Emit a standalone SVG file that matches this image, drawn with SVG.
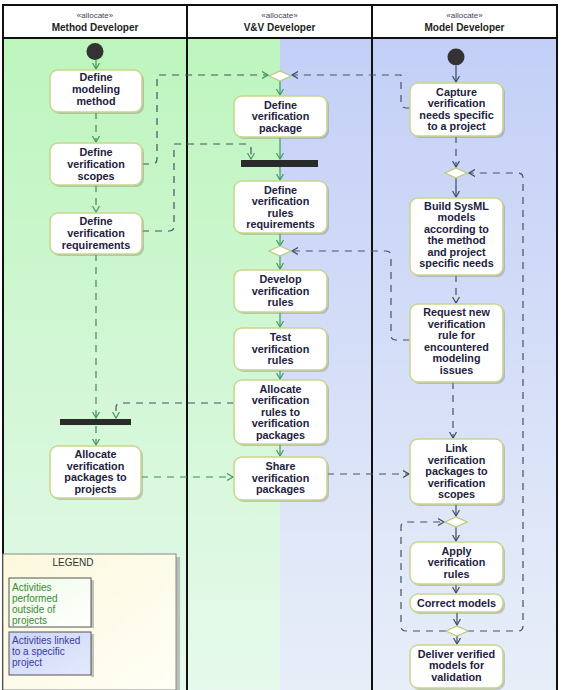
<svg xmlns="http://www.w3.org/2000/svg" width="562" height="690" viewBox="0 0 562 690">
<defs>
<linearGradient id="gG" x1="0" y1="0" x2="0" y2="1"><stop offset="0" stop-color="#bdf5bd"/><stop offset="1" stop-color="#e6f9ec"/></linearGradient>
<linearGradient id="gB" x1="0" y1="0" x2="0" y2="1"><stop offset="0" stop-color="#c3cff7"/><stop offset="1" stop-color="#e8eef8"/></linearGradient>
<linearGradient id="gL" x1="0" y1="0" x2="1" y2="1"><stop offset="0" stop-color="#fbf8dc"/><stop offset="1" stop-color="#fffff6"/></linearGradient>
<linearGradient id="gL1" x1="0" y1="0" x2="1" y2="1"><stop offset="0" stop-color="#eefbe6"/><stop offset="1" stop-color="#ffffff"/></linearGradient>
<linearGradient id="gL2" x1="0" y1="0" x2="1" y2="1"><stop offset="0" stop-color="#ccd6f8"/><stop offset="1" stop-color="#e4e9fb"/></linearGradient>
<marker id="mG" markerWidth="8" markerHeight="8" refX="6" refY="4" orient="auto" markerUnits="userSpaceOnUse"><path d="M0,0.5 L6,4 L0,7.5" fill="none" stroke="#3f9a5c" stroke-width="1.2"/></marker>
<marker id="mD" markerWidth="8" markerHeight="8" refX="6" refY="4" orient="auto" markerUnits="userSpaceOnUse"><path d="M0,0.5 L6,4 L0,7.5" fill="none" stroke="#404a62" stroke-width="1.2"/></marker>
<style>
.sh{fill:#8e8e8e;opacity:.45}
.box{fill:#fff;stroke:#c7d68c;stroke-width:1.5}
.t{font-family:"Liberation Sans",Arial,sans-serif;font-weight:bold;font-size:10.8px;fill:#22223e;text-anchor:middle}
.hs{font-family:"Liberation Sans",Arial,sans-serif;font-size:8px;fill:#444466;text-anchor:middle}
.hn{font-family:"Liberation Sans",Arial,sans-serif;font-weight:bold;font-size:10px;fill:#222;text-anchor:middle}
.dia{fill:#fff;stroke:#b9cc7e;stroke-width:1.3}
.bar{fill:#2a2a2a}
.ini{fill:#333}
.g{fill:none;stroke:#3f9a5c;stroke-width:1.2}
.gd{fill:none;stroke:#3f8a56;stroke-width:1.2;stroke-dasharray:7 6}
.d{fill:none;stroke:#404a62;stroke-width:1.2}
.dd{fill:none;stroke:#4a5064;stroke-width:1.2;stroke-dasharray:7 6}
.frame{fill:none;stroke:#111;stroke-width:2}
.lt{font-family:"Liberation Sans",Arial,sans-serif;font-size:10px}
</style>
</defs>

<!-- lanes -->
<g id="lanes">
<rect x="3" y="38" width="184" height="652" fill="url(#gG)"/>
<rect x="187" y="38" width="93" height="652" fill="url(#gG)"/>
<rect x="280" y="38" width="92" height="652" fill="url(#gB)"/>
<rect x="372" y="38" width="185" height="652" fill="url(#gB)"/>
<rect x="3" y="5" width="554" height="33" fill="#fff"/>
<text class="hs" x="95" y="18">«allocate»</text>
<text class="hn" x="95" y="31">Method Developer</text>
<text class="hs" x="279.5" y="18">«allocate»</text>
<text class="hn" x="279.5" y="31">V&amp;V Developer</text>
<text class="hs" x="464.5" y="18">«allocate»</text>
<text class="hn" x="464.5" y="31">Model Developer</text>
<rect class="frame" x="3" y="5" width="554" height="690"/>
<line class="frame" x1="3" y1="38" x2="557" y2="38"/>
<line class="frame" x1="187" y1="5" x2="187" y2="690"/>
<line class="frame" x1="372" y1="5" x2="372" y2="690"/>
</g>

<!-- legend -->
<g id="legend">
<rect x="176" y="557" width="4" height="133" fill="#9a9a9a" opacity=".6"/>
<rect x="3" y="554" width="173" height="136" fill="url(#gL)" stroke="#8a8a8a" stroke-width="1"/>
<text class="lt" x="73" y="566" text-anchor="middle" fill="#333">LEGEND</text>
<rect x="91" y="580" width="3" height="48" fill="#999" opacity=".6"/>
<rect x="9" y="578" width="82" height="49" fill="url(#gL1)" stroke="#555" stroke-width="1"/>
<text class="lt" fill="#3a8a3a"><tspan x="12" y="591">Activities</tspan><tspan x="12" y="602">performed</tspan><tspan x="12" y="613">outside of</tspan><tspan x="12" y="624">projects</tspan></text>
<rect x="91" y="634" width="3" height="43" fill="#999" opacity=".6"/>
<rect x="9" y="632" width="82" height="43" fill="url(#gL2)" stroke="#555" stroke-width="1"/>
<text class="lt" fill="#3a3aa0"><tspan x="12" y="644">Activities linked</tspan><tspan x="12" y="655">to a specific</tspan><tspan x="12" y="666">project</tspan></text>
</g>

<!-- connectors -->
<g id="connectors">
<path class="g" d="M96,60 L96,69" marker-end="url(#mG)"/>
<path class="gd" d="M96,112 L96,142" marker-end="url(#mG)"/>
<path class="gd" d="M96,185 L96,212" marker-end="url(#mG)"/>
<path class="gd" d="M96,254 L96,418" marker-end="url(#mG)"/>
<path class="gd" d="M96,426 L96,445" marker-end="url(#mG)"/>
<path class="gd" d="M141,477 L233,477" marker-end="url(#mG)"/>
<path class="dd" d="M142,164 L152,164 Q157,164 157,159 L157,75 L268,75" marker-end="url(#mG)"/>
<path class="dd" d="M142,231 L169,231 Q174,231 174,226 L174,144 L246,144 Q251,144 251,149 L251,159" marker-end="url(#mG)"/>
<path class="dd" d="M234,403 L121,403 Q116,403 116,408 L116,418" marker-end="url(#mG)"/>
<path class="dd" d="M410,108 L406,108 Q401,108 401,103 L401,75 L292,75" marker-end="url(#mD)"/>
<path class="dd" d="M410,340 L396,340 Q391,340 391,335 L391,256 Q391,251 386,251 L292,251" marker-end="url(#mD)"/>
<path class="dd" d="M327,474 L409,474" marker-end="url(#mD)"/>
<path class="g" d="M280,81 L280,95" marker-end="url(#mG)"/>
<path class="g" d="M280,137 L280,159" marker-end="url(#mG)"/>
<path class="g" d="M280,167 L280,180" marker-end="url(#mG)"/>
<path class="g" d="M280,233 L280,246" marker-end="url(#mG)"/>
<path class="g" d="M280,256 L280,269" marker-end="url(#mG)"/>
<path class="g" d="M280,312 L280,327" marker-end="url(#mG)"/>
<path class="g" d="M280,370 L280,379" marker-end="url(#mG)"/>
<path class="g" d="M280,444 L280,456" marker-end="url(#mG)"/>
<path class="d" d="M456,66 L456,82" marker-end="url(#mD)"/>
<path class="dd" d="M456,136 L456,167" marker-end="url(#mD)"/>
<path class="d" d="M456,178 L456,197" marker-end="url(#mD)"/>
<path class="dd" d="M456,275 L456,303" marker-end="url(#mD)"/>
<path class="dd" d="M453,382 L453,438" marker-end="url(#mD)"/>
<path class="d" d="M456,504 L456,516" marker-end="url(#mD)"/>
<path class="d" d="M456,527 L456,541" marker-end="url(#mD)"/>
<path class="d" d="M456,584 L456,593" marker-end="url(#mD)"/>
<path class="d" d="M457,612 L457,625" marker-end="url(#mD)"/>
<path class="d" d="M457,636 L457,644" marker-end="url(#mD)"/>
<path class="dd" d="M467,631 L518,631 Q523,631 523,626 L523,178 Q523,173 518,173 L469,173" marker-end="url(#mD)"/>
<path class="dd" d="M446,631 L406,631 Q401,631 401,626 L401,527 Q401,522 406,522 L444,522" marker-end="url(#mD)"/>
</g>

<!-- control nodes -->
<g id="init1"><circle class="ini" cx="95" cy="51.5" r="8.5"/></g>
<g id="init2"><circle class="ini" cx="456" cy="57" r="8.5"/></g>
<g id="dec1"><path class="dia" d="M269,76 L280,71 L291,76 L280,81 Z"/></g>
<g id="dec2"><path class="dia" d="M269,251 L280,246 L291,251 L280,256 Z"/></g>
<g id="dec3"><path class="dia" d="M445,173 L456,168 L467,173 L456,178 Z"/></g>
<g id="dec4"><path class="dia" d="M445,522 L456,517 L467,522 L456,527 Z"/></g>
<g id="dec5"><path class="dia" d="M446,631 L457,626 L468,631 L457,636 Z"/></g>
<g id="join1"><rect class="bar" x="60" y="419" width="71" height="6"/></g>
<g id="fork1"><rect class="bar" x="241" y="160" width="77" height="7"/></g>

<!-- action nodes -->
<g id="m1"><rect class="sh" x="52" y="72" width="92" height="42" rx="8"/><rect class="box" x="50" y="70" width="92" height="42" rx="8"/>
<text class="t"><tspan x="96" y="81">Define</tspan><tspan x="96" y="93">modeling</tspan><tspan x="96" y="105">method</tspan></text></g>
<g id="m2"><rect class="sh" x="52" y="145" width="92" height="42" rx="8"/><rect class="box" x="50" y="143" width="92" height="42" rx="8"/>
<text class="t"><tspan x="96" y="156">Define</tspan><tspan x="96" y="168">verification</tspan><tspan x="96" y="180">scopes</tspan></text></g>
<g id="m3"><rect class="sh" x="52" y="215" width="92" height="41" rx="8"/><rect class="box" x="50" y="213" width="92" height="41" rx="8"/>
<text class="t"><tspan x="96" y="225">Define</tspan><tspan x="96" y="237">verification</tspan><tspan x="96" y="249">requirements</tspan></text></g>
<g id="m4"><rect class="sh" x="52" y="448" width="91" height="52" rx="8"/><rect class="box" x="50" y="446" width="91" height="52" rx="8"/>
<text class="t"><tspan x="95.5" y="458">Allocate</tspan><tspan x="95.5" y="469.5">verification</tspan><tspan x="95.5" y="481">packages to</tspan><tspan x="95.5" y="492.5">projects</tspan></text></g>

<g id="v1"><rect class="sh" x="236" y="98" width="93" height="41" rx="8"/><rect class="box" x="234" y="96" width="93" height="41" rx="8"/>
<text class="t"><tspan x="280.5" y="108.5">Define</tspan><tspan x="280.5" y="120">verification</tspan><tspan x="280.5" y="131.5">package</tspan></text></g>
<g id="v2"><rect class="sh" x="236" y="183" width="93" height="52" rx="8"/><rect class="box" x="234" y="181" width="93" height="52" rx="8"/>
<text class="t"><tspan x="280.5" y="193.5">Define</tspan><tspan x="280.5" y="205">verification</tspan><tspan x="280.5" y="216.5">rules</tspan><tspan x="280.5" y="228">requirements</tspan></text></g>
<g id="v3"><rect class="sh" x="236" y="272" width="93" height="42" rx="8"/><rect class="box" x="234" y="270" width="93" height="42" rx="8"/>
<text class="t"><tspan x="280.5" y="283">Develop</tspan><tspan x="280.5" y="294.5">verification</tspan><tspan x="280.5" y="306">rules</tspan></text></g>
<g id="v4"><rect class="sh" x="236" y="330" width="93" height="42" rx="8"/><rect class="box" x="234" y="328" width="93" height="42" rx="8"/>
<text class="t"><tspan x="280.5" y="341">Test</tspan><tspan x="280.5" y="352.5">verification</tspan><tspan x="280.5" y="364">rules</tspan></text></g>
<g id="v5"><rect class="sh" x="236" y="382" width="93" height="64" rx="8"/><rect class="box" x="234" y="380" width="93" height="64" rx="8"/>
<text class="t"><tspan x="280.5" y="392.5">Allocate</tspan><tspan x="280.5" y="404">verification</tspan><tspan x="280.5" y="415.5">rules to</tspan><tspan x="280.5" y="427">verification</tspan><tspan x="280.5" y="438.5">packages</tspan></text></g>
<g id="v6"><rect class="sh" x="236" y="459" width="93" height="43" rx="8"/><rect class="box" x="234" y="457" width="93" height="43" rx="8"/>
<text class="t"><tspan x="280.5" y="470">Share</tspan><tspan x="280.5" y="481.5">verification</tspan><tspan x="280.5" y="493">packages</tspan></text></g>

<g id="r1"><rect class="sh" x="412" y="85" width="93" height="53" rx="8"/><rect class="box" x="410" y="83" width="93" height="53" rx="8"/>
<text class="t"><tspan x="456.5" y="95.5">Capture</tspan><tspan x="456.5" y="107">verification</tspan><tspan x="456.5" y="118.5">needs specific</tspan><tspan x="456.5" y="130">to a project</tspan></text></g>
<g id="r2"><rect class="sh" x="412" y="200" width="93" height="77" rx="8"/><rect class="box" x="410" y="198" width="93" height="77" rx="8"/>
<text class="t"><tspan x="456.5" y="209.5">Build SysML</tspan><tspan x="456.5" y="221">models</tspan><tspan x="456.5" y="232.5">according to</tspan><tspan x="456.5" y="244">the method</tspan><tspan x="456.5" y="255.5">and project</tspan><tspan x="456.5" y="267">specific needs</tspan></text></g>
<g id="r3"><rect class="sh" x="412" y="306" width="93" height="78" rx="8"/><rect class="box" x="410" y="304" width="93" height="78" rx="8"/>
<text class="t"><tspan x="456.5" y="316">Request new</tspan><tspan x="456.5" y="327.5">verification</tspan><tspan x="456.5" y="339">rule for</tspan><tspan x="456.5" y="350.5">encountered</tspan><tspan x="456.5" y="362">modeling</tspan><tspan x="456.5" y="373.5">issues</tspan></text></g>
<g id="r4"><rect class="sh" x="412" y="441" width="93" height="65" rx="8"/><rect class="box" x="410" y="439" width="93" height="65" rx="8"/>
<text class="t"><tspan x="456.5" y="452">Link</tspan><tspan x="456.5" y="463.5">verification</tspan><tspan x="456.5" y="475">packages to</tspan><tspan x="456.5" y="486.5">verification</tspan><tspan x="456.5" y="498">scopes</tspan></text></g>
<g id="r5"><rect class="sh" x="412" y="544" width="93" height="42" rx="8"/><rect class="box" x="410" y="542" width="93" height="42" rx="8"/>
<text class="t"><tspan x="456.5" y="554.5">Apply</tspan><tspan x="456.5" y="566">verification</tspan><tspan x="456.5" y="577.5">rules</tspan></text></g>
<g id="r6"><rect class="sh" x="412" y="596" width="93" height="18" rx="8"/><rect class="box" x="410" y="594" width="93" height="18" rx="8"/>
<text class="t" x="456.5" y="607">Correct models</text></g>
<g id="r7"><rect class="sh" x="412" y="647" width="93" height="43" rx="8"/><rect class="box" x="410" y="645" width="93" height="43" rx="8"/>
<text class="t"><tspan x="456.5" y="657.5">Deliver verified</tspan><tspan x="456.5" y="669">models for</tspan><tspan x="456.5" y="680.5">validation</tspan></text></g>
</svg>
